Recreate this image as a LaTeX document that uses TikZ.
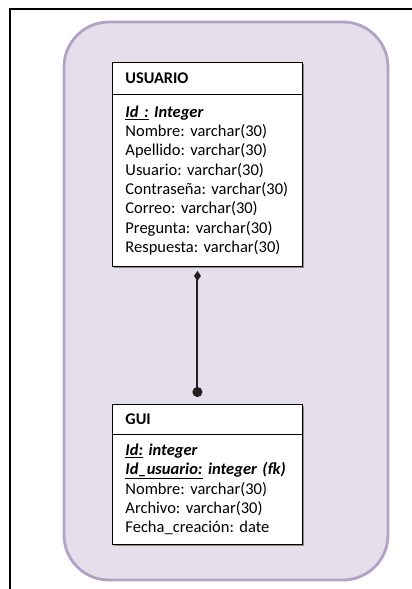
\documentclass[tikz,border=0pt]{standalone}
\usepackage{fontspec}
\setmainfont{Carlito}
\usetikzlibrary{arrows.meta,shadows}
\frenchspacing

\definecolor{zonefill}{HTML}{E5DFEC}
\definecolor{zoneline}{HTML}{B3A2C7}
\definecolor{linkgray}{HTML}{222222}

\tikzset{
  tablebox/.style={draw=black, line width=0.9pt, fill=white, anchor=north west,
    minimum width=190pt, text width=164pt, inner xsep=13pt, inner ysep=0pt,
    align=left, font=\fontsize{16.5}{19.3}\selectfont,
    drop shadow={shadow xshift=2pt, shadow yshift=-2pt, fill=gray!90, opacity=1}},
  headbox/.style={tablebox, minimum height=32pt, font=\fontsize{16.3}{19.3}\selectfont\bfseries},
  link/.style={draw=linkgray, line width=2pt,
    {Diamond[width=7pt,length=10pt]}-{Circle[length=10pt]}}
}
\newcommand{\pk}[1]{\textbf{\textit{\underline{#1}}}}
\newcommand{\bi}[1]{\textbf{\textit{#1}}}

\begin{document}
\begin{tikzpicture}[x=1pt,y=-1pt]
  \useasboundingbox (0,0) rectangle (412,589);

  % outer frame (top and left edges)
  \draw[line width=1.6pt] (10,589) -- (10,9) -- (412,9);

  % lavender zone
  \draw[draw=zoneline, fill=zonefill, line width=2.8pt, rounded corners=45pt]
    (64,22) rectangle (388,580);

  % USUARIO table
  \node[headbox] (usrhead) at (112,62) {USUARIO};
  \node[tablebox, minimum height=172pt] (usrbody) at (112,94) {%
    \pk{Id :}\bi{ Integer}\\
    Nombre: varchar(30)\\
    Apellido: varchar(30)\\
    Usuario: varchar(30)\\
    Contraseña: varchar(30)\\
    Correo: varchar(30)\\
    Pregunta: varchar(30)\\
    Respuesta: varchar(30)};

  % GUI table
  \node[headbox, minimum height=30pt] (guihead) at (112,404) {GUI};
  \node[tablebox, minimum height=110pt] (guibody) at (112,434) {%
    \pk{Id:}\bi{ integer}\\
    \pk{Id\_usuario:}\bi{ integer (fk)}\\
    Nombre: varchar(30)\\
    Archivo: varchar(30)\\
    Fecha\_creación: date};

  % relationship
  \draw[link, shorten <=4pt, shorten >=7pt]
    ([xshift=-10pt]usrbody.south) -- ([xshift=-10pt]guihead.north);
\end{tikzpicture}
\end{document}
